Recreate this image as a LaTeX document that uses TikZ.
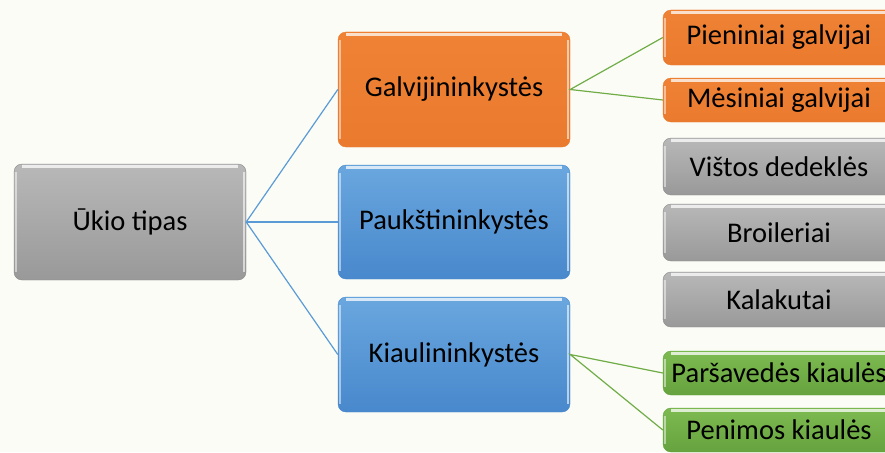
\documentclass[tikz,border=0pt]{standalone}
\usepackage{fontspec}
\setmainfont{Carlito}
\definecolor{bg}{HTML}{FBFCF6}
\definecolor{grayT}{HTML}{B8B8B8}
\definecolor{grayB}{HTML}{999999}
\definecolor{orT}{HTML}{EF8235}
\definecolor{orB}{HTML}{EA7A2E}
\definecolor{blT}{HTML}{6AA7DF}
\definecolor{blB}{HTML}{4888CC}
\definecolor{grT}{HTML}{7DBA50}
\definecolor{grB}{HTML}{66A33F}
\definecolor{lnBlue}{HTML}{5B9BD5}
\definecolor{lnGreen}{HTML}{70AD47}
\tikzset{
  box/.style={rounded corners=8pt, minimum width=232pt, inner sep=0pt,
    font=\fontsize{28.5}{32}\selectfont, text=black,
    path picture={
      \draw[white, opacity=0.75, line width=2.5pt]
        ([xshift=8pt,yshift=-2.5pt]path picture bounding box.north west) --
        ([xshift=-8pt,yshift=-2.5pt]path picture bounding box.north east);
      \draw[white, opacity=0.6, line width=2pt]
        ([xshift=-2pt,yshift=-8pt]path picture bounding box.north east) --
        ([xshift=-2pt,yshift=8pt]path picture bounding box.south east);
      \draw[white, opacity=0.5, line width=1.5pt]
        ([xshift=2pt,yshift=-8pt]path picture bounding box.north west) --
        ([xshift=2pt,yshift=8pt]path picture bounding box.south west);
    }},
  graybox/.style={box, top color=grayT, bottom color=grayB, draw=grayB!90!black},
  orbox/.style={box, top color=orT, bottom color=orB, draw=orB},
  blbox/.style={box, top color=blT, bottom color=blB, draw=blB},
  grbox/.style={box, top color=grT, bottom color=grB, draw=grB},
  blline/.style={draw=lnBlue, line width=1.2pt},
  grline/.style={draw=lnGreen, line width=1.2pt}
}
\begin{document}
\begin{tikzpicture}[x=1pt,y=-1pt]
\fill[bg] (0,0) rectangle (885,452);
\useasboundingbox (0,0) rectangle (885,452);
\clip (0,0) rectangle (885,452);
\node[graybox, minimum height=116pt] (ukio) at (130,222) {Ūkio tipas};
\node[orbox, minimum height=115pt] (galv) at (454,89.5) {Galvijininkystės};
\node[blbox, minimum height=114pt] (pauk) at (454,222) {Paukštininkystės};
\node[blbox, minimum height=115pt] (kiaul) at (454,354.5) {Kiaulininkystės};
\node[orbox, minimum height=55pt] (pien) at (779,37.5) {Pieniniai galvijai};
\node[orbox, minimum height=44pt] (mes) at (779,100) {Mėsiniai galvijai};
\node[graybox, minimum height=57pt] (vist) at (779,166.5) {Vištos dedeklės};
\node[graybox, minimum height=57pt] (broil) at (779,232.5) {Broileriai};
\node[graybox, minimum height=55pt] (kalak) at (779,299.5) {Kalakutai};
\node[grbox, minimum height=44pt] (pars) at (779,373) {Paršavedės kiaulės};
\node[grbox, minimum height=44pt] (penim) at (779,430) {Penimos kiaulės};
\draw[blline] (galv.west) -- (ukio.east) -- (kiaul.west);
\draw[blline] (ukio.east) -- (pauk.west);
\draw[grline] (pien.west) -- (galv.east) -- (mes.west);
\draw[grline] (pars.west) -- (kiaul.east) -- (penim.west);
\end{tikzpicture}
\end{document}
